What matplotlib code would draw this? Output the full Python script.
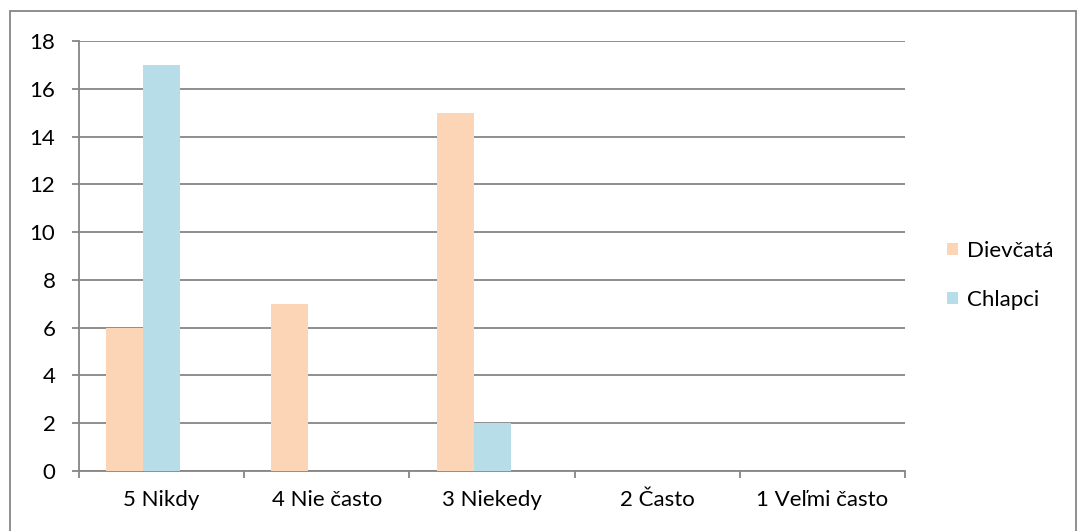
import numpy as np
import matplotlib.pyplot as plt
from matplotlib.patches import Rectangle

categories = ['5 Nikdy', '4 Nie často', '3 Niekedy', '2 Často', '1 Veľmi často']
dievcata = [6, 7, 15, 0, 0]
chlapci = [17, 0, 2, 0, 0]
yticks = [0, 2, 4, 6, 8, 10, 12, 14, 16, 18]

plt.rcParams['font.family'] = ['Lato', 'DejaVu Sans']
grid_col = '#868686'
fs = 16

fig = plt.figure(figsize=(10.77, 5.31), dpi=100)
ax = fig.add_axes([79 / 1077, 60 / 531, 826 / 1077, 430 / 531])

# outer chart frame
fig.patches.append(Rectangle((9.5 / 1077, -0.01), 1066 / 1077, 519.5 / 531 + 0.01,
                             transform=fig.transFigure, fill=False,
                             edgecolor=grid_col, linewidth=1.3))

x = np.arange(len(categories))
w = 37 / 165.2
ax.bar(x - w, dievcata, width=w, align='center', color='#FBD5B5', label='Dievčatá', zorder=3)
ax.bar(x, chlapci, width=w, align='center', color='#B7DEE8', label='Chlapci', zorder=3)

ax.set_xlim(-0.5, len(categories) - 0.5)
ax.set_ylim(0, 18)
ax.set_yticks(yticks)
ax.yaxis.grid(True, color=grid_col, linewidth=1.3, zorder=0)
ax.set_axisbelow(True)

ax.set_xticks(x)
ax.set_xticklabels(categories)
ax.set_xticks(np.arange(len(categories) + 1) - 0.5, minor=True)
ax.tick_params(axis='x', which='major', length=0, pad=14, labelsize=fs)
ax.tick_params(axis='x', which='minor', length=5, width=1.3, color=grid_col, direction='out')
ax.tick_params(axis='y', length=5, width=1.3, color=grid_col, pad=12, labelsize=fs)

for s in ['top', 'right']:
    ax.spines[s].set_visible(False)
for s in ['left', 'bottom']:
    ax.spines[s].set_color(grid_col)
    ax.spines[s].set_linewidth(1.3)

ax.legend(loc='center left', bbox_to_anchor=(1.027, 0.455), frameon=False,
          fontsize=fs, handlelength=0.5, handleheight=0.5, handletextpad=0.4,
          labelspacing=1.3)

fig.savefig('out.png', dpi=100)
